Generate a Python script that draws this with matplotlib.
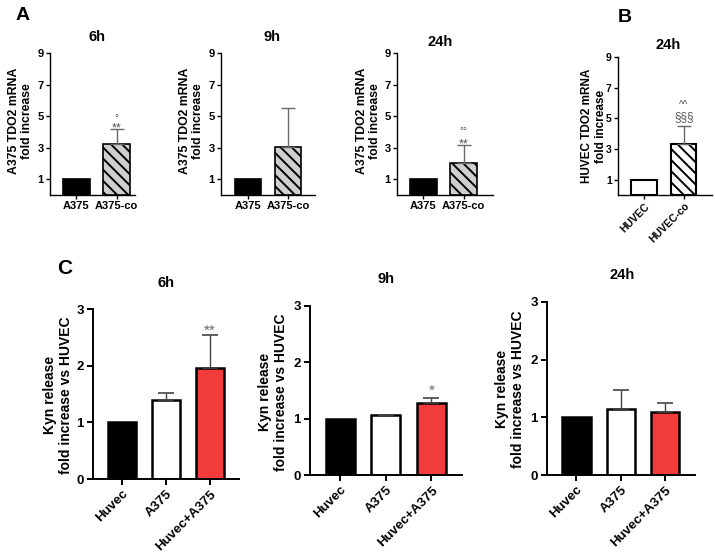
import matplotlib
matplotlib.use("Agg")
import matplotlib.pyplot as plt

plt.rcParams['font.family'] = ['Liberation Sans', 'DejaVu Sans']
plt.rcParams['hatch.linewidth'] = 1.4

W, H = 715, 558

# ---------------- data ----------------
a_groups = ['A375', 'A375-co']
a_6h = [1.0, 3.25]
a_6h_err = [0.0, 0.95]
a_9h = [1.0, 3.05]
a_9h_err = [0.0, 2.45]
a_24h = [1.0, 2.05]
a_24h_err = [0.0, 1.10]

b_groups = ['HUVEC', 'HUVEC-co']
b_24h = [1.0, 3.3]
b_24h_err = [0.0, 1.2]

c_groups = ['Huvec', 'A375', 'Huvec+A375']
c_6h = [1.0, 1.39, 1.96]
c_6h_err = [0.0, 0.13, 0.58]
c_9h = [1.0, 1.06, 1.28]
c_9h_err = [0.0, 0.01, 0.09]
c_24h = [1.0, 1.15, 1.09]
c_24h_err = [0.0, 0.33, 0.16]

a_yticks = [1, 3, 5, 7, 9]
c_yticks = [0, 1, 2, 3]

RED = '#f23b3b'
HATCH_GRAY = '#cfcfcf'
ERR = '#6a6a6a'
ANN = '#555555'

fig = plt.figure(figsize=(W / 100, H / 100), dpi=100)


def add_ax(left, top, right, bottom):
    return fig.add_axes([left / W, 1 - bottom / H, (right - left) / W, (bottom - top) / H])


def style(ax, lw, fs, ticklen, pad=1.5):
    for s in ['top', 'right']:
        ax.spines[s].set_visible(False)
    for s in ['left', 'bottom']:
        ax.spines[s].set_linewidth(lw)
    ax.tick_params(axis='both', width=lw, length=ticklen, labelsize=fs, pad=pad)
    for lab in ax.get_xticklabels() + ax.get_yticklabels():
        lab.set_fontweight('bold')


def panel_a(ax, vals, errs, xlim, annots):
    x = list(range(len(vals)))
    ax.bar(x[0], vals[0], width=0.67, color='black', edgecolor='black', linewidth=1.2)
    ax.bar(x[1], vals[1], width=0.67, color=HATCH_GRAY, edgecolor='black',
           linewidth=1.2, hatch='\\\\\\')
    ax.errorbar(x[1], vals[1], yerr=[[0], [errs[1]]], fmt='none', ecolor=ERR,
                elinewidth=1.0, capsize=5, capthick=1.0)
    ax.set_xlim(*xlim)
    ax.set_ylim(0, 9)
    ax.set_yticks(a_yticks)
    ax.set_xticks(x)
    ax.set_xticklabels(a_groups)
    style(ax, 1.0, 8, 3)
    for (xx, yy, t, fs) in annots:
        ax.text(xx, yy, t, ha='center', va='center', fontsize=fs, color=ANN)


# ---------- Panel A ----------
ax1 = add_ax(50, 53, 135, 195)
panel_a(ax1, a_6h, a_6h_err, (-0.66, 1.46), [(1, 4.2, '**', 9), (1, 4.9, '°', 7)])
ax2 = add_ax(221, 53, 315, 195)
panel_a(ax2, a_9h, a_9h_err, (-0.68, 1.68), [])
ax3 = add_ax(397, 53, 493, 195)
panel_a(ax3, a_24h, a_24h_err, (-0.65, 1.73), [(1, 3.2, '**', 9), (1, 4.05, '°°', 7)])

for xc in [20.5, 191.5, 368.5]:
    fig.text(xc / W, 1 - 121 / H, 'A375 TDO2 mRNA\nfold increase', rotation=90,
             ha='center', va='center', fontsize=8.8, fontweight='bold', linespacing=1.2)
for tx, ty, t in [(97, 37, '6h'), (272, 37, '9h'), (440, 42, '24h')]:
    fig.text(tx / W, 1 - ty / H, t, ha='center', va='center', fontsize=10.5, fontweight='bold')

# ---------- Panel B ----------
axb = add_ax(618, 57, 712, 195)
xb = [0, 1]
axb.bar(xb[0], b_24h[0], width=0.64, color='white', edgecolor='black', linewidth=1.5)
axb.bar(xb[1], b_24h[1], width=0.64, color='white', edgecolor='black', linewidth=1.5,
        hatch='\\\\\\')
axb.errorbar(xb[1], b_24h[1], yerr=[[0], [b_24h_err[1]]], fmt='none', ecolor=ERR,
             elinewidth=1.0, capsize=5, capthick=1.0)
axb.set_xlim(-0.65, 1.71)
axb.set_ylim(0, 9)
axb.set_yticks(a_yticks)
axb.set_xticks(xb)
axb.set_xticklabels(b_groups, rotation=45, ha='right', rotation_mode='anchor')
style(axb, 1.0, 7.5, 3)
axb.text(1, 5.05, '§§§', ha='center', va='center', fontsize=8.5, color=ANN)
axb.text(1, 5.9, '^^', ha='center', va='center', fontsize=7, color=ANN)
fig.text(594 / W, 1 - 126 / H, 'HUVEC TDO2 mRNA\nfold increase', rotation=90,
         ha='center', va='center', fontsize=8.5, fontweight='bold', linespacing=1.2)
fig.text(668 / W, 1 - 45 / H, '24h', ha='center', va='center', fontsize=10.5, fontweight='bold')

fig.text(23 / W, 1 - 15 / H, 'A', ha='center', va='center', fontsize=14, fontweight='bold')
fig.text(625 / W, 1 - 17 / H, 'B', ha='center', va='center', fontsize=14, fontweight='bold')
fig.text(65 / W, 1 - 268 / H, 'C', ha='center', va='center', fontsize=15, fontweight='bold')


# ---------- Panel C ----------
def panel_c(ax, vals, errs, annot):
    x = list(range(len(vals)))
    colors = ['black', 'white', RED]
    ax.bar(x, vals, width=0.64, color=colors, edgecolor='black', linewidth=1.8)
    ax.errorbar(x[1:], vals[1:], yerr=[[0] * (len(x) - 1), errs[1:]], fmt='none',
                ecolor='#444444', elinewidth=1.0, capsize=6, capthick=1.2)
    ax.set_xlim(-0.66, 2.67)
    ax.set_ylim(0, 3)
    ax.set_yticks(c_yticks)
    ax.set_xticks(x)
    ax.set_xticklabels(c_groups, rotation=45, ha='right', rotation_mode='anchor')
    style(ax, 1.4, 9.5, 4, pad=2.5)
    if annot:
        xx, yy, t = annot
        ax.text(xx, yy, t, ha='center', va='center', fontsize=11, color='#666666')


cx1 = add_ax(93, 309, 239, 479)
panel_c(cx1, c_6h, c_6h_err, (2, 2.62, '**'))
cx2 = add_ax(310, 306, 462, 475)
panel_c(cx2, c_9h, c_9h_err, (2, 1.5, '*'))
cx3 = add_ax(547, 302, 695, 475)
panel_c(cx3, c_24h, c_24h_err, None)

for xc, yc in [(58, 395), (273, 392), (510, 389)]:
    fig.text(xc / W, 1 - yc / H, 'Kyn release\nfold increase vs HUVEC', rotation=90,
             ha='center', va='center', fontsize=10, fontweight='bold', linespacing=1.15)
for tx, ty, t in [(166, 283, '6h'), (386, 279, '9h'), (622, 275, '24h')]:
    fig.text(tx / W, 1 - ty / H, t, ha='center', va='center', fontsize=10.5, fontweight='bold')

fig.savefig('out.png', dpi=100)
